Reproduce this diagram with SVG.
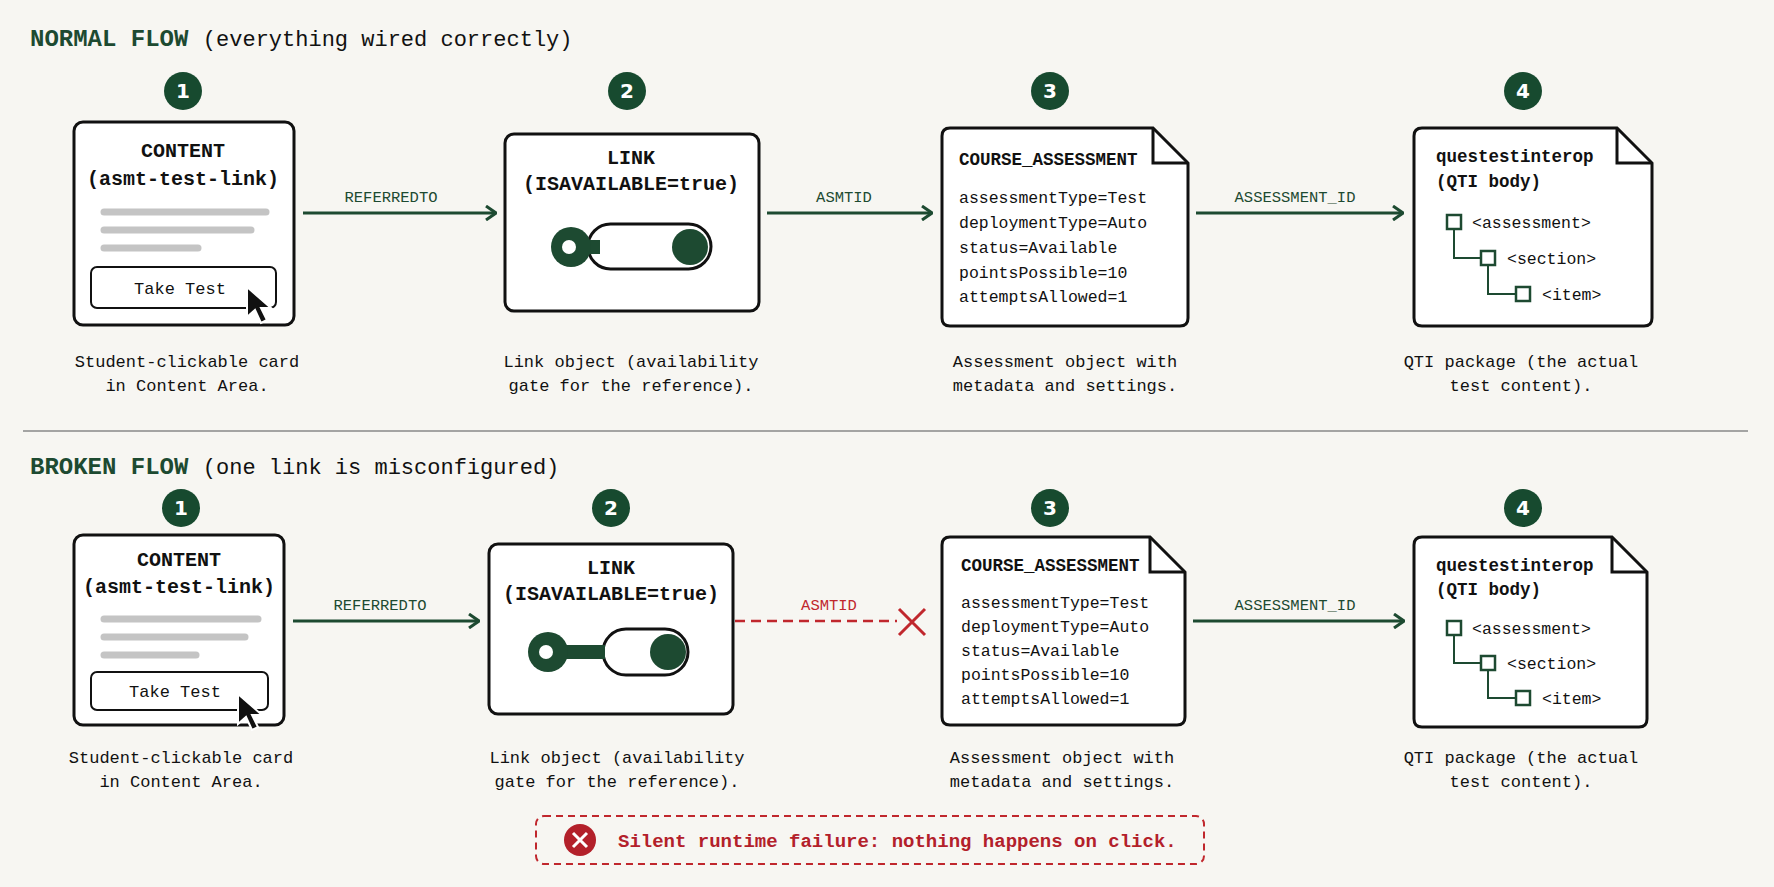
<svg xmlns="http://www.w3.org/2000/svg" width="1774" height="887" viewBox="0 0 1774 887">
<defs>
<style>
text{font-family:"Liberation Mono","DejaVu Sans Mono",monospace;fill:#111}
.ttl{font-size:24px;font-weight:bold;fill:#1d4a31}
.hd{font-size:20px;font-weight:bold;text-anchor:middle}
.box{fill:#fff;stroke:#111;stroke-width:3}
.bd{font-size:16.5px}
.cap{font-size:17px;text-anchor:middle}
.lbl{font-size:15.5px;text-anchor:middle;fill:#1d4a31}
.badge{fill:#174a2f}
.bn{font-size:20px;font-weight:bold;fill:#fff;text-anchor:middle;font-family:"DejaVu Sans",sans-serif}
.bar{stroke:#c4c4c4;stroke-width:7;stroke-linecap:round}
.arr{stroke:#1d4a31;stroke-width:3;fill:none}
.tree{stroke:#1d4a31;stroke-width:2;fill:none}
.sq{fill:#fff;stroke:#1d4a31;stroke-width:2.5}
</style>
<marker id="ah" viewBox="0 0 12 16" refX="11" refY="8" markerWidth="12" markerHeight="16" markerUnits="userSpaceOnUse" orient="auto"><path d="M1 1 L11 8 L1 15" fill="none" stroke="#1d4a31" stroke-width="3"/></marker>
<path id="cursor" d="M0 0 L0 30 L8 23 L14 36 L20 33 L14 21 L24 21 Z" fill="#111" stroke="#fff" stroke-width="2"/>
</defs>
<rect width="1774" height="887" fill="#f7f6f2"/>

<text x="30" y="46" class="ttl">NORMAL FLOW <tspan style="font-weight:normal;fill:#111;font-size:22px">(everything wired correctly)</tspan></text>
<text x="30" y="474" class="ttl">BROKEN FLOW <tspan style="font-weight:normal;fill:#111;font-size:22px">(one link is misconfigured)</tspan></text>
<line x1="23" y1="431" x2="1748" y2="431" stroke="#888" stroke-width="1.5"/>

<g id="n1-badge"><circle cx="183" cy="91" r="19" class="badge"/><text x="183" y="98" class="bn">1</text></g>
<g id="n2-badge"><circle cx="627" cy="91" r="19" class="badge"/><text x="627" y="98" class="bn">2</text></g>
<g id="n3-badge"><circle cx="1050" cy="91" r="19" class="badge"/><text x="1050" y="98" class="bn">3</text></g>
<g id="n4-badge"><circle cx="1523" cy="91" r="19" class="badge"/><text x="1523" y="98" class="bn">4</text></g>

<g id="top-content">
<rect x="74" y="122" width="220" height="203" rx="9" class="box"/>
<text x="183" y="157" class="hd">CONTENT</text>
<text x="183" y="185" class="hd">(asmt-test-link)</text>
<line x1="104" y1="212" x2="266" y2="212" class="bar"/>
<line x1="104" y1="230" x2="251" y2="230" class="bar"/>
<line x1="104" y1="248" x2="198" y2="248" class="bar"/>
<rect x="91" y="267" width="185" height="41" rx="6" fill="#fff" stroke="#111" stroke-width="2"/>
<text x="180" y="294" class="cap">Take Test</text>
<use href="#cursor" x="247" y="287"/>
<text x="187" y="367" class="cap">Student-clickable card</text>
<text x="187" y="391" class="cap">in Content Area.</text>
</g>

<g id="top-link">
<rect x="505" y="134" width="254" height="177" rx="9" class="box"/>
<text x="631" y="164" class="hd">LINK</text>
<text x="631" y="190" class="hd">(ISAVAILABLE=true)</text>
<rect x="588" y="224" width="123" height="45" rx="22.5" fill="#fff" stroke="#111" stroke-width="3"/>
<line x1="575" y1="247" x2="600" y2="247" stroke="#1d4a31" stroke-width="14"/>
<circle cx="571" cy="247" r="20" fill="#1d4a31"/>
<circle cx="569" cy="247" r="7" fill="#fff"/>
<circle cx="690" cy="247" r="18" fill="#1d4a31"/>
<text x="631" y="367" class="cap">Link object (availability</text>
<text x="631" y="391" class="cap">gate for the reference).</text>
</g>

<g id="top-course">
<path d="M942 136 Q942 128 950 128 L1153 128 L1188 163 L1188 318 Q1188 326 1180 326 L950 326 Q942 326 942 318 Z" class="box"/>
<path d="M1153 128 L1153 163 L1188 163" fill="none" stroke="#111" stroke-width="3"/>
<text x="959" y="165" style="font-size:17.5px;font-weight:bold">COURSE_ASSESSMENT</text>
<text x="959" y="203" class="bd">assessmentType=Test</text>
<text x="959" y="228" class="bd">deploymentType=Auto</text>
<text x="959" y="253" class="bd">status=Available</text>
<text x="959" y="278" class="bd">pointsPossible=10</text>
<text x="959" y="302" class="bd">attemptsAllowed=1</text>
<text x="1065" y="367" class="cap">Assessment object with</text>
<text x="1065" y="391" class="cap">metadata and settings.</text>
</g>

<g id="top-qti">
<path d="M1414 136 Q1414 128 1422 128 L1617 128 L1652 163 L1652 318 Q1652 326 1644 326 L1422 326 Q1414 326 1414 318 Z" class="box"/>
<path d="M1617 128 L1617 163 L1652 163" fill="none" stroke="#111" stroke-width="3"/>
<text x="1436" y="162" style="font-size:17.5px;font-weight:bold">questestinterop</text>
<text x="1436" y="187" style="font-size:17.5px;font-weight:bold">(QTI body)</text>
<path d="M1454 229 V258 H1481 M1488 265 V294 H1516" class="tree"/>
<rect x="1447" y="215" width="14" height="14" class="sq"/>
<rect x="1481" y="251" width="14" height="14" class="sq"/>
<rect x="1516" y="287" width="14" height="14" class="sq"/>
<text x="1472" y="228" class="bd">&lt;assessment&gt;</text>
<text x="1507" y="264" class="bd">&lt;section&gt;</text>
<text x="1542" y="300" class="bd">&lt;item&gt;</text>
<text x="1521" y="367" class="cap">QTI package (the actual</text>
<text x="1521" y="391" class="cap">test content).</text>
</g>

<g id="b1-badge"><circle cx="181" cy="508" r="19" class="badge"/><text x="181" y="515" class="bn">1</text></g>
<g id="b2-badge"><circle cx="611" cy="508" r="19" class="badge"/><text x="611" y="515" class="bn">2</text></g>
<g id="b3-badge"><circle cx="1050" cy="508" r="19" class="badge"/><text x="1050" y="515" class="bn">3</text></g>
<g id="b4-badge"><circle cx="1523" cy="508" r="19" class="badge"/><text x="1523" y="515" class="bn">4</text></g>

<g id="bot-content">
<rect x="74" y="535" width="210" height="190" rx="9" class="box"/>
<text x="179" y="566" class="hd">CONTENT</text>
<text x="179" y="593" class="hd">(asmt-test-link)</text>
<line x1="104" y1="619" x2="258" y2="619" class="bar"/>
<line x1="104" y1="637" x2="245" y2="637" class="bar"/>
<line x1="104" y1="655" x2="196" y2="655" class="bar"/>
<rect x="91" y="672" width="177" height="38" rx="6" fill="#fff" stroke="#111" stroke-width="2"/>
<text x="175" y="697" class="cap">Take Test</text>
<use href="#cursor" x="238" y="694"/>
<text x="181" y="763" class="cap">Student-clickable card</text>
<text x="181" y="787" class="cap">in Content Area.</text>
</g>

<g id="bot-link">
<rect x="489" y="544" width="244" height="170" rx="9" class="box"/>
<text x="611" y="574" class="hd">LINK</text>
<text x="611" y="600" class="hd">(ISAVAILABLE=true)</text>
<rect x="603" y="629" width="85" height="46" rx="23" fill="#fff" stroke="#111" stroke-width="3"/>
<line x1="552" y1="652" x2="605" y2="652" stroke="#1d4a31" stroke-width="14"/>
<circle cx="548" cy="652" r="20" fill="#1d4a31"/>
<circle cx="546" cy="652" r="7" fill="#fff"/>
<circle cx="668" cy="652" r="18" fill="#1d4a31"/>
<text x="617" y="763" class="cap">Link object (availability</text>
<text x="617" y="787" class="cap">gate for the reference).</text>
</g>

<g id="bot-course">
<path d="M942 545 Q942 537 950 537 L1150 537 L1185 572 L1185 717 Q1185 725 1177 725 L950 725 Q942 725 942 717 Z" class="box"/>
<path d="M1150 537 L1150 572 L1185 572" fill="none" stroke="#111" stroke-width="3"/>
<text x="961" y="571" style="font-size:17.5px;font-weight:bold">COURSE_ASSESSMENT</text>
<text x="961" y="608" class="bd">assessmentType=Test</text>
<text x="961" y="632" class="bd">deploymentType=Auto</text>
<text x="961" y="656" class="bd">status=Available</text>
<text x="961" y="680" class="bd">pointsPossible=10</text>
<text x="961" y="704" class="bd">attemptsAllowed=1</text>
<text x="1062" y="763" class="cap">Assessment object with</text>
<text x="1062" y="787" class="cap">metadata and settings.</text>
</g>

<g id="bot-qti">
<path d="M1414 545 Q1414 537 1422 537 L1612 537 L1647 572 L1647 719 Q1647 727 1639 727 L1422 727 Q1414 727 1414 719 Z" class="box"/>
<path d="M1612 537 L1612 572 L1647 572" fill="none" stroke="#111" stroke-width="3"/>
<text x="1436" y="571" style="font-size:17.5px;font-weight:bold">questestinterop</text>
<text x="1436" y="595" style="font-size:17.5px;font-weight:bold">(QTI body)</text>
<path d="M1454 635 V663 H1481 M1488 670 V698 H1516" class="tree"/>
<rect x="1447" y="621" width="14" height="14" class="sq"/>
<rect x="1481" y="656" width="14" height="14" class="sq"/>
<rect x="1516" y="691" width="14" height="14" class="sq"/>
<text x="1472" y="634" class="bd">&lt;assessment&gt;</text>
<text x="1507" y="669" class="bd">&lt;section&gt;</text>
<text x="1542" y="704" class="bd">&lt;item&gt;</text>
<text x="1521" y="763" class="cap">QTI package (the actual</text>
<text x="1521" y="787" class="cap">test content).</text>
</g>

<g id="connectors">
<line x1="303" y1="213" x2="496" y2="213" class="arr" marker-end="url(#ah)"/>
<text x="391" y="202" class="lbl">REFERREDTO</text>
<line x1="767" y1="213" x2="932" y2="213" class="arr" marker-end="url(#ah)"/>
<text x="844" y="202" class="lbl">ASMTID</text>
<line x1="1196" y1="213" x2="1403" y2="213" class="arr" marker-end="url(#ah)"/>
<text x="1295" y="202" class="lbl">ASSESSMENT_ID</text>

<line x1="293" y1="621" x2="479" y2="621" class="arr" marker-end="url(#ah)"/>
<text x="380" y="610" class="lbl">REFERREDTO</text>
<line x1="735" y1="621" x2="897" y2="621" stroke="#c0272d" stroke-width="2.5" stroke-dasharray="10 6"/>
<text x="829" y="610" class="lbl" style="fill:#c0272d">ASMTID</text>
<path d="M899 609 L925 635 M925 609 L899 635" stroke="#c0272d" stroke-width="3"/>
<line x1="1193" y1="621" x2="1404" y2="621" class="arr" marker-end="url(#ah)"/>
<text x="1295" y="610" class="lbl">ASSESSMENT_ID</text>
</g>

<g id="error">
<rect x="536" y="816" width="668" height="48" rx="8" fill="none" stroke="#c0272d" stroke-width="2" stroke-dasharray="7 5"/>
<circle cx="580" cy="840" r="16" fill="#b3202a"/>
<path d="M573 833 L587 847 M587 833 L573 847" stroke="#fff" stroke-width="3"/>
<text x="618" y="847" style="font-size:19px;font-weight:bold;fill:#b3202a">Silent runtime failure: nothing happens on click.</text>
</g>
</svg>
